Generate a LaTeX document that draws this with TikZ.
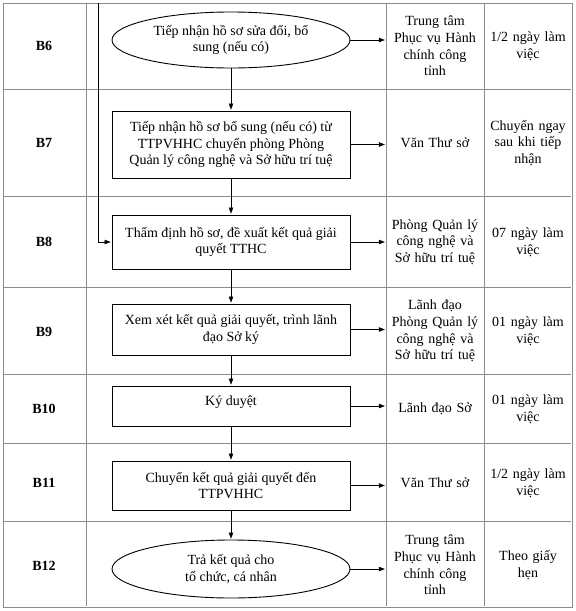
\documentclass[tikz,border=0pt]{standalone}
\usepackage{fontspec}
\setmainfont{Liberation Serif}
\usetikzlibrary{shapes.geometric,positioning,arrows.meta}

\begin{document}
\begin{tikzpicture}[x=1pt,y=-1pt,shorten >=1pt,>={Triangle[length=6pt,width=4.5pt]},
  font=\fontsize{14}{16.7}\selectfont,
  grid/.style={draw=black!45,line width=0.8pt},
  steplabel/.style={font=\fontsize{14}{16.7}\selectfont\bfseries},
  proc/.style={draw,line width=0.9pt,minimum width=238pt,align=center,inner sep=2pt},
  term/.style={draw,ellipse,line width=0.9pt,minimum width=238pt,align=center,inner sep=-8pt},
  cell/.style={text width=92pt,inner xsep=3pt,align=center}]
  \useasboundingbox (0,0) rectangle (576,611);

  % table grid
  \draw[grid] (3,3) rectangle (572,607);
  \foreach \y in {89,196,287,374,443,521}
    \draw[grid] (3,\y) -- (572,\y);
  \foreach \x in {86,386,484}
    \draw[grid] (\x,3) -- (\x,607);

  % step names
  \node[steplabel] (B6)  at (44,46)  {B6};
  \node[steplabel] (B7)  at (44,143) {B7};
  \node[steplabel] (B8)  at (44,242) {B8};
  \node[steplabel] (B9)  at (44,332) {B9};
  \node[steplabel] (B10) at (44,409) {B10};
  \node[steplabel] (B11) at (44,483) {B11};
  \node[steplabel] (B12) at (44,566) {B12};

  % flow
  \node[term,minimum height=56pt] (S6) at (231,40) {Tiếp nhận hồ sơ sửa đổi, bổ\\sung (nếu có)};
  \node[proc,minimum height=67pt] (S7) at (231,144.5) {Tiếp nhận hồ sơ bổ sung (nếu có) từ\\TTPVHHC chuyển phòng Phòng\\Quản lý công nghệ và Sở hữu trí tuệ};
  \node[proc,minimum height=54pt] (S8) at (231,242) {Thẩm định hồ sơ, đề xuất kết quả giải\\quyết TTHC};
  \node[proc,minimum height=51pt] (S9) at (231,329.5) {Xem xét kết quả giải quyết, trình lãnh\\đạo Sở ký};
  \node[proc,minimum height=40pt,text depth=11pt] (S10) at (231,406) {Ký duyệt};
  \node[proc,minimum height=49pt] (S11) at (231,485.5) {Chuyển kết quả giải quyết đến\\TTPVHHC};
  \node[term,minimum height=58pt] (S12) at (231,569) {Trả kết quả cho\\tổ chức, cá nhân};

  % who
  \node[cell] (R6)  at (435,46)  {Trung tâm\\Phục vụ Hành\\chính công\\tỉnh};
  \node[cell] (R7)  at (435,143) {Văn Thư sở};
  \node[cell] (R8)  at (435,242) {Phòng Quản lý\\công nghệ và\\Sở hữu trí tuệ};
  \node[cell] (R9)  at (435,331) {Lãnh đạo\\Phòng Quản lý\\công nghệ và\\Sở hữu trí tuệ};
  \node[cell] (R10) at (435,409) {Lãnh đạo Sở};
  \node[cell] (R11) at (435,483) {Văn Thư sở};
  \node[cell] (R12) at (435,565) {Trung tâm\\Phục vụ Hành\\chính công\\tỉnh};

  % time
  \node[cell,text width=84pt] (T6)  at (528,46)  {1/2 ngày làm\\việc};
  \node[cell,text width=84pt] (T7)  at (528,143) {Chuyển ngay\\sau khi tiếp\\nhận};
  \node[cell,text width=84pt] (T8)  at (528,242) {07 ngày làm\\việc};
  \node[cell,text width=84pt] (T9)  at (528,331) {01 ngày làm\\việc};
  \node[cell,text width=84pt] (T10) at (528,409) {01 ngày làm\\việc};
  \node[cell,text width=84pt] (T11) at (528,483) {1/2 ngày làm\\việc};
  \node[cell,text width=84pt] (T12) at (528,565) {Theo giấy\\hẹn};

  \coordinate (back) at (98,3);

  \path[->]
    (S6)  edge (S7)
    (S7)  edge (S8)
    (S8)  edge (S9)
    (S9)  edge (S10)
    (S10) edge (S11)
    (S11) edge (S12);

  \foreach \n in {6,...,12}
    \draw[->] (S\n.east) -- (S\n.east -| R\n.west);

  \draw[->] (back) |- (S8.west);
\end{tikzpicture}
\end{document}
